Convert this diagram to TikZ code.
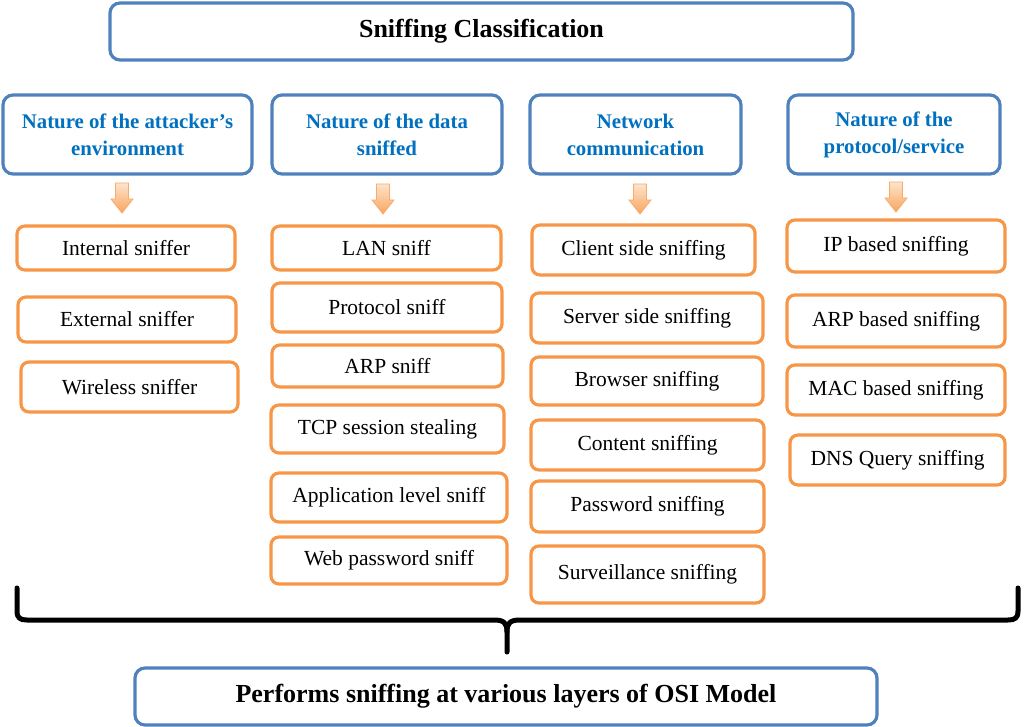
\documentclass[tikz,border=0pt]{standalone}
\usepackage{fontspec}
\setmainfont{Liberation Serif}
\definecolor{boxblue}{HTML}{4F81BD}
\definecolor{textblue}{HTML}{0070C0}
\definecolor{boxorange}{HTML}{F79646}
\definecolor{arrowtop}{HTML}{FDE4CC}
\definecolor{arrowbot}{HTML}{F9A55E}
\begin{document}
\begin{tikzpicture}
  [x=1pt,y=-1pt,
   bluebox/.style=
     {draw=boxblue,line width=3.2pt,rounded corners=10pt,fill=white,
      align=center,inner sep=2pt},
   titlebox/.style=
     {bluebox,minimum width=743pt,minimum height=57pt,
      font=\fontsize{26}{30}\selectfont\bfseries},
   headbox/.style=
     {bluebox,minimum height=79pt,text=textblue,
      font=\fontsize{20.8}{27}\selectfont\bfseries},
   itembox/.style=
     {draw=boxorange,line width=3.2pt,rounded corners=8pt,fill=white,
      align=center,inner sep=2pt,font=\fontsize{21.5}{24}\selectfont},
   downarrow/.style=
     {draw=boxorange!80,line width=0.8pt,top color=arrowtop,bottom color=arrowbot},
   brace/.style=
     {line width=5pt,line cap=round,line join=round}
  ]
  \useasboundingbox (0,0) rectangle (1024,727);

  \node[titlebox] (title) at (481.5,31.5) {Sniffing Classification};

  \node[headbox,minimum width=249pt] (env) at (127.5,134.5)
    {Nature of the attacker’s\\environment};
  \node[headbox,minimum width=230pt] (data) at (387,134.5)
    {Nature of the data\\sniffed};
  \node[headbox,minimum width=211pt] (net) at (635.5,134.5)
    {Network\\communication};
  \node[headbox,minimum width=212pt] (proto) at (894,134.5)
    {Nature of the\\protocol/service};

  % small arrows under the headings
  \foreach \ax/\ay in {122/183,383/184,640/184,896/182}
    \shade[downarrow] (\ax-6.5,\ay) -- (\ax+6.5,\ay) -- (\ax+6.5,\ay+16)
      -- (\ax+11,\ay+16) -- (\ax,\ay+30) -- (\ax-11,\ay+16)
      -- (\ax-6.5,\ay+16) -- cycle;

  % attacker's environment
  \node[itembox,minimum width=218pt,minimum height=44pt] (internal) at (126,248) {Internal sniffer};
  \node[itembox,minimum width=218pt,minimum height=45pt] (external) at (127,319.5) {External sniffer};
  \node[itembox,minimum width=217pt,minimum height=50pt] (wireless) at (129.5,387) {Wireless sniffer};

  % data sniffed
  \node[itembox,minimum width=229pt,minimum height=44pt] (lan) at (386.5,248) {LAN sniff};
  \node[itembox,minimum width=230pt,minimum height=49pt] (protocol) at (387,307.5) {Protocol sniff};
  \node[itembox,minimum width=231pt,minimum height=42pt] (arp) at (387.5,366) {ARP sniff};
  \node[itembox,minimum width=233pt,minimum height=48pt] (tcp) at (387.5,429) {TCP session stealing};
  \node[itembox,minimum width=236pt,minimum height=49pt] (app) at (389,497.5) {Application level sniff};
  \node[itembox,minimum width=236pt,minimum height=47pt] (web) at (389,560.5) {Web password sniff};

  % network communication
  \node[itembox,minimum width=223pt,minimum height=50pt] (client) at (643.5,250) {Client side sniffing};
  \node[itembox,minimum width=232pt,minimum height=50pt] (server) at (647,318) {Server side sniffing};
  \node[itembox,minimum width=232pt,minimum height=48pt] (browser) at (647,381) {Browser sniffing};
  \node[itembox,minimum width=233pt,minimum height=50pt] (content) at (647.5,445) {Content sniffing};
  \node[itembox,minimum width=233pt,minimum height=51pt] (password) at (647.5,506.5) {Password sniffing};
  \node[itembox,minimum width=233pt,minimum height=57pt] (surveil) at (647.5,574.5) {Surveillance sniffing};

  % protocol/service
  \node[itembox,minimum width=218pt,minimum height=52pt] (ipbased) at (896,246) {IP based sniffing};
  \node[itembox,minimum width=218pt,minimum height=52pt] (arpbased) at (896,321) {ARP based sniffing};
  \node[itembox,minimum width=218pt,minimum height=50pt] (macbased) at (896,390) {MAC based sniffing};
  \node[itembox,minimum width=215pt,minimum height=50pt] (dns) at (897.5,460) {DNS Query sniffing};

  \node[bluebox,minimum width=742pt,minimum height=57pt,
        font=\fontsize{26}{30}\selectfont\bfseries] (osi) at (506,696.5)
    {Performs sniffing at various layers of OSI Model};

  % the brace
  \coordinate (bleft) at (17,588);
  \coordinate (bright) at (1018,588);
  \coordinate (btip) at (507,652);
  \draw[brace] (bleft) -- (17,611) .. controls (17,618) and (20,620) .. (27,620)
    -- (494,620) .. controls (504,620) and (507,623) .. (507,632) -- (btip);
  \draw[brace] (bright) -- (1018,611) .. controls (1018,618) and (1015,620) .. (1008,620)
    -- (520,620) .. controls (510,620) and (507,623) .. (507,632);
\end{tikzpicture}
\end{document}
